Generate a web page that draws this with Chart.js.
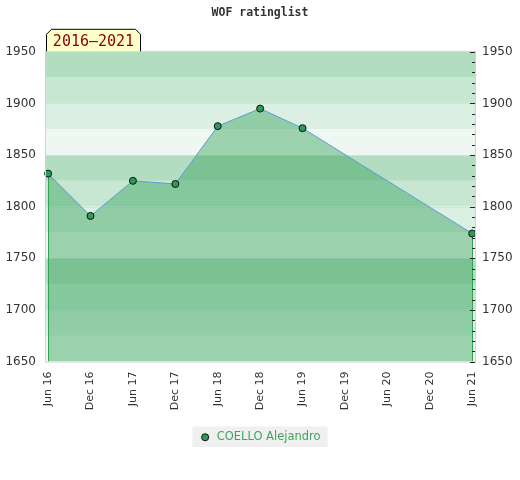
<!DOCTYPE html>
<html>
<head>
<meta charset="utf-8">
<script src="https://cdn.jsdelivr.net/npm/chart.js@4"></script>
<style>
  html, body { margin: 0; padding: 0; background: #fff; }
  #wrap { width: 520px; height: 480px; }
</style>
</head>
<body>
<div id="wrap"><canvas id="myChart" width="520" height="480"></canvas></div>
<script>
// Axis labels along the bottom (one every 6 months)
var tickLabels = ['Jun 16', 'Dec 16', 'Jun 17', 'Dec 17', 'Jun 18', 'Dec 18',
                  'Jun 19', 'Dec 19', 'Jun 20', 'Dec 20', 'Jun 21'];
// Rating lists where a value exists
var periods = ['Jun 16', 'Dec 16', 'Jun 17', 'Dec 17', 'Jun 18', 'Dec 18', 'Jun 19', 'Jun 21'];
var ratings = [1832, 1791, 1825, 1822, 1878, 1895, 1876, 1774];
var playerName = 'COELLO Alejandro';
var rangeLabel = '2016\u20132021';

// Background bands, repeating every 100 points (darkest at top)
var bandColors = ['#b3ddc1', '#c8e7d3', '#dbefe2', '#eef7f1'];

// months since Jun 16 for each label
function monthOf(label) {
  return tickLabels.indexOf(label) * 6;
}

var points = periods.map(function (p, i) {
  return { x: monthOf(p), y: ratings[i] };
});

// Draw bands, plot frame, period badge and legend background
var decorPlugin = {
  id: 'decor',
  beforeDraw: function (chart) {
    var ctx = chart.ctx;
    var area = chart.chartArea;
    var y = chart.scales.y;

    ctx.save();
    for (var v = y.max; v > y.min; v -= 25) {
      var idx = Math.round((y.max - v) / 25) % 4;
      var top = y.getPixelForValue(v);
      var bottom = y.getPixelForValue(v - 25);
      ctx.fillStyle = bandColors[idx];
      ctx.fillRect(area.left, top, area.right - area.left, bottom - top);
    }
    // faint lines at major values
    ctx.strokeStyle = 'rgba(215,225,218,0.9)';
    ctx.lineWidth = 1;
    for (var m = y.min + 50; m < y.max; m += 50) {
      var py = Math.round(y.getPixelForValue(m)) + 0.5;
      ctx.beginPath();
      ctx.moveTo(area.left, py);
      ctx.lineTo(area.right, py);
      ctx.stroke();
    }

    // legend background
    var lg = chart.legend;
    if (lg && lg.legendHitBoxes && lg.legendHitBoxes.length) {
      var hb = lg.legendHitBoxes[0];
      ctx.fillStyle = '#f0f0f0';
      ctx.fillRect(hb.left - 7, hb.top - 5, hb.width + 14, hb.height + 9);
    }
    ctx.restore();
  },
  afterDatasetsDraw: function (chart) {
    var ctx = chart.ctx;
    var area = chart.chartArea;
    var meta = chart.getDatasetMeta(0);
    var first = meta.data[0];
    var last = meta.data[meta.data.length - 1];

    ctx.save();
    // green edges of the area
    ctx.strokeStyle = '#2ea44f';
    ctx.lineWidth = 1;
    [first, last].forEach(function (pt) {
      var px = Math.round(pt.x) + 0.5;
      ctx.beginPath();
      ctx.moveTo(px, pt.y + 3);
      ctx.lineTo(px, area.bottom);
      ctx.stroke();
    });
    // points on top of the edges
    meta.data.forEach(function (pt) {
      ctx.beginPath();
      ctx.arc(pt.x, pt.y, 3.5, 0, Math.PI * 2);
      ctx.fillStyle = '#2e9a55';
      ctx.fill();
      ctx.strokeStyle = '#111';
      ctx.stroke();
    });

    // plot frame
    ctx.strokeStyle = '#d0d0d0';
    ctx.strokeRect(area.left - 0.5, area.top - 0.5, area.right - area.left + 1, area.bottom - area.top + 1);

    // tick marks on the right side, inside the plot
    var r = chart.scales.y2;
    ctx.strokeStyle = '#222';
    r.ticks.forEach(function (t) {
      var ty = Math.round(r.getPixelForValue(t.value)) + 0.5;
      var len = (t.value % 50 === 0) ? 5 : 3;
      ctx.beginPath();
      ctx.moveTo(area.right - len, ty);
      ctx.lineTo(area.right, ty);
      ctx.stroke();
    });

    // period badge at top-left
    var bx = area.left + 0.5, by = area.top - 22.5, bw = 94, bh = 22, c = 5;
    ctx.beginPath();
    ctx.moveTo(bx, by + bh);
    ctx.lineTo(bx, by + c);
    ctx.lineTo(bx + c, by);
    ctx.lineTo(bx + bw - c, by);
    ctx.lineTo(bx + bw, by + c);
    ctx.lineTo(bx + bw, by + bh);
    ctx.fillStyle = '#ffffcc';
    ctx.fill();
    ctx.strokeStyle = '#000';
    ctx.stroke();
    ctx.fillStyle = '#8b0000';
    ctx.font = '15px "DejaVu Sans Mono"';
    ctx.textBaseline = 'middle';
    ctx.textAlign = 'center';
    ctx.fillText(rangeLabel, bx + bw / 2, by + bh / 2 + 2);
    ctx.restore();
  }
};

var ctx = document.getElementById('myChart').getContext('2d');
var myChart = new Chart(ctx, {
  type: 'line',
  data: {
    datasets: [{
      label: playerName,
      data: points,
      borderColor: '#5b9fd6',
      borderWidth: 1,
      backgroundColor: 'rgba(57,164,93,0.46)',
      fill: 'start',
      tension: 0,
      pointRadius: 0
    }]
  },
  plugins: [decorPlugin],
  options: {
    responsive: false,
    animation: false,
    devicePixelRatio: 1,
    layout: { padding: { left: 0, right: 0, top: 0, bottom: 27 } },
    plugins: {
      title: {
        display: true,
        text: 'WOF ratinglist',
        color: '#333',
        font: { family: '"DejaVu Sans Mono"', size: 11.5, weight: 'bold' },
        padding: { top: 6, bottom: 32 }
      },
      legend: {
        position: 'bottom',
        labels: {
          usePointStyle: true,
          pointStyle: 'circle',
          boxWidth: 12,
          boxHeight: 5,
          padding: 8,
          color: '#3aa85c',
          font: { family: '"DejaVu Sans"', size: 11.5 },
          generateLabels: function (chart) {
            return [{
              text: playerName,
              fillStyle: '#2e9a55',
              strokeStyle: '#111',
              lineWidth: 1,
              pointStyle: 'circle',
              fontColor: '#3aa85c',
              datasetIndex: 0
            }];
          }
        }
      },
      tooltip: { enabled: false }
    },
    scales: {
      x: {
        type: 'linear',
        min: -0.3,
        max: 60.4,
        grid: { display: false, drawTicks: false },
        border: { display: false },
        afterBuildTicks: function (scale) {
          scale.ticks = tickLabels.map(function (l) { return { value: monthOf(l) }; });
        },
        afterFit: function (scale) { scale.height = 62; },
        ticks: {
          autoSkip: false,
          minRotation: 90,
          maxRotation: 90,
          padding: 10,
          color: '#333',
          font: { family: '"DejaVu Sans"', size: 11 },
          callback: function (v) { return tickLabels[v / 6]; }
        }
      },
      y: {
        position: 'left',
        min: 1650,
        max: 1950,
        grid: { display: false, drawTicks: false },
        border: { display: false },
        afterFit: function (scale) { scale.width = 46; },
        ticks: {
          stepSize: 50,
          padding: 10,
          color: '#333',
          font: { family: '"DejaVu Sans"', size: 12 },
          callback: function (v) { return String(v); }
        }
      },
      y2: {
        position: 'right',
        min: 1650,
        max: 1950,
        grid: { display: false, drawTicks: false },
        border: { display: false },
        afterFit: function (scale) { scale.width = 45; },
        ticks: {
          stepSize: 10,
          autoSkip: false,
          padding: 7,
          color: '#333',
          font: { family: '"DejaVu Sans"', size: 12 },
          callback: function (v) { return v % 50 === 0 ? String(v) : ''; }
        }
      }
    }
  }
});
</script>
</body>
</html>
